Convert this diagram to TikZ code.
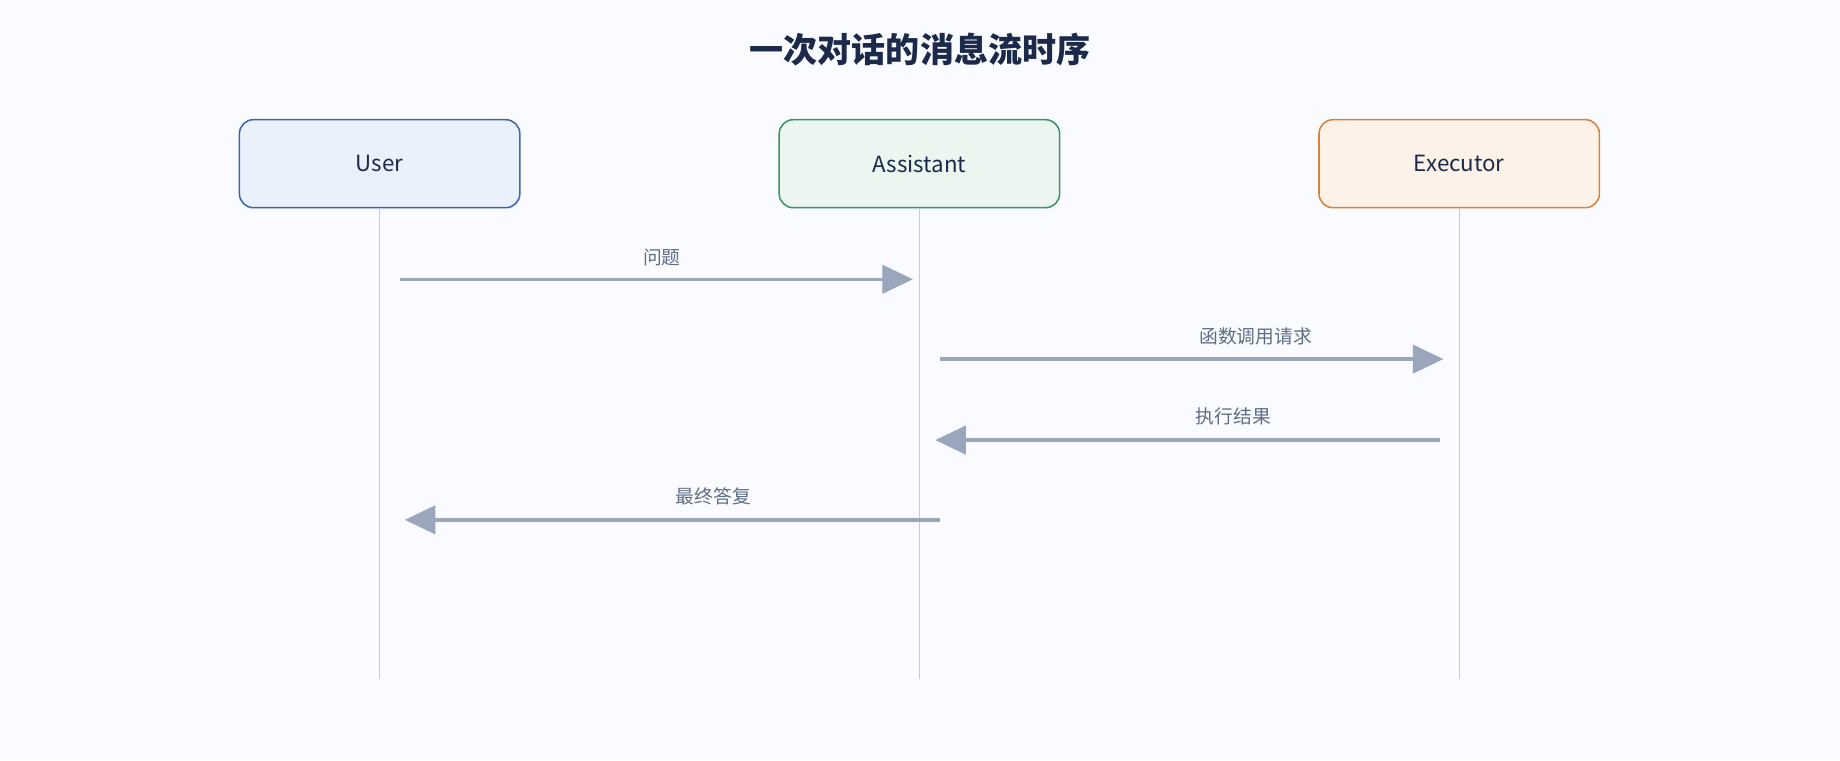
\documentclass[tikz,border=0pt]{standalone}
\usepackage{fontspec}
\setmainfont{Noto Sans CJK SC}
\usetikzlibrary{arrows.meta}
\definecolor{bg}{HTML}{F9FBFE}
\definecolor{ttl}{HTML}{1B2A4A}
\definecolor{lbl}{HTML}{5E6E86}
\definecolor{arr}{HTML}{9AA6BC}
\definecolor{life}{HTML}{C3CBD7}
\definecolor{uf}{HTML}{EAF1FC}\definecolor{us}{HTML}{3A68A8}
\definecolor{af}{HTML}{EAF6EF}\definecolor{as}{HTML}{3A9363}
\definecolor{ef}{HTML}{FDF2E7}\definecolor{es}{HTML}{D4843F}
\begin{document}
\begin{tikzpicture}[x=1pt,y=-1pt,
  actor/.style={draw,line width=1.3pt,rounded corners=12pt,minimum width=239pt,minimum height=75pt,inner sep=0pt,font=\fontsize{19}{22}\selectfont,text=ttl},
  lifeline/.style={draw=life,line width=1pt},
  msg/.style={draw=arr,line width=3pt,-{Triangle[length=26pt,width=24pt]}},
  mlbl/.style={font=\fontsize{16}{19}\selectfont,text=lbl}]
\fill[bg] (0,0) rectangle (1568,648);
\useasboundingbox (0,0) rectangle (1568,648);
\node[font=\fontsize{29}{34}\selectfont\bfseries,text=ttl] (title) at (784,42) {一次对话的消息流时序};
\node[actor,fill=uf,draw=us] (user) at (323.5,139.5) {User};
\node[actor,fill=af,draw=as] (asst) at (783.5,139.5) {Assistant};
\node[actor,fill=ef,draw=es] (exec) at (1243.5,139.5) {Executor};
\coordinate (ue) at (323.5,579); \coordinate (ae) at (783.5,579); \coordinate (ee) at (1243.5,579);
\draw[lifeline] (user.south) -- (ue);
\draw[lifeline] (asst.south) -- (ae);
\draw[lifeline] (exec.south) -- (ee);
\coordinate (m1s) at (341,238); \coordinate (m1e) at (778,238);
\coordinate (m2s) at (801,306); \coordinate (m2e) at (1230,306);
\coordinate (m3s) at (1227,375); \coordinate (m3e) at (797,375);
\coordinate (m4s) at (801,443); \coordinate (m4e) at (345,443);
\draw[msg] (m1s) -- (m1e);
\draw[msg] (m2s) -- (m2e);
\draw[msg] (m3s) -- (m3e);
\draw[msg] (m4s) -- (m4e);
\node[mlbl] (l1) at (564,219) {问题};
\node[mlbl] (l2) at (1070,287) {函数调用请求};
\node[mlbl] (l3) at (1051,355) {执行结果};
\node[mlbl] (l4) at (608,423) {最终答复};
\end{tikzpicture}
\end{document}
